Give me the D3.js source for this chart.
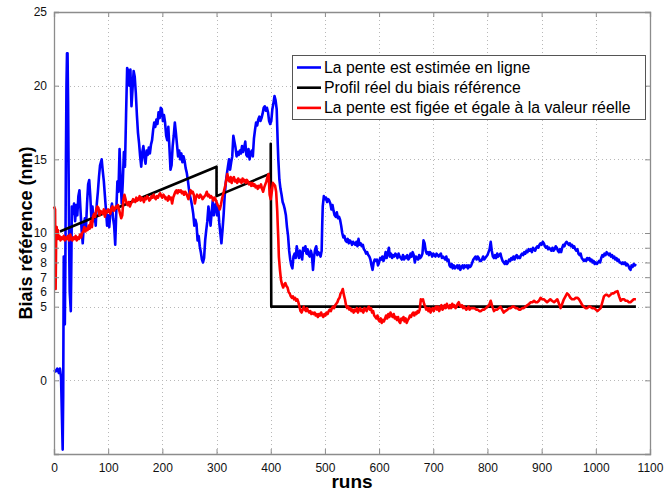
<!DOCTYPE html>
<html>
<head>
<meta charset="utf-8">
<script src="https://cdn.jsdelivr.net/npm/d3@7"></script>
<style>
  html, body { margin: 0; padding: 0; background: #fff; }
  svg { display: block; font-family: "Liberation Sans", Arial, Helvetica, sans-serif; }
</style>
</head>
<body>
<svg id="chart" width="666" height="494"></svg>
<script>
// Axis ticks
const xTicks = [0, 100, 200, 300, 400, 500, 600, 700, 800, 900, 1000, 1100];
const yTicks = [0, 5, 6, 7, 8, 9, 10, 15, 20, 25];

// Legend labels
const seriesNames = [
  "La pente est estimée en ligne",
  "Profil réel du biais référence",
  "La pente est figée et égale à la valeur réelle"
];

// Online slope estimate: [run, bias nm]
const blueSeries = [
  [0,0.7],[3,0.6],[6,0.8],[9,0.5],[11,0.8],[13,0.2],[16,-4.7],[17,-1],[18,8.4],[19,6],[20,3.8],[21,8],
  [22,15],[23,20],[24,22.2],[25,22.2],[26,19],[27,14],[28,9],[29,6],[31,4.7],[32,8],[33,11.8],[35,11.3],
  [37,12],[39,10.8],[41,11.9],[43,11.2],[45,12.5],[47,12.9],[49,11.5],[51,10.2],[53,9.3],[55,10.5],[57,11],
  [59,10.3],[61,12],[63,13.3],[65,13.6],[67,12.5],[69,11],[71,11.8],[73,10.8],[75,11.3],[77,10.5],[79,12],
  [81,12.8],[83,13.8],[85,14.6],[88,15],[90,14.2],[92,13.5],[94,12.5],[96,11.5],[98,10.5],[100,11.2],
  [102,10.4],[104,11.4],[107,12],[109,11],[111,10.5],[113,9.2],[115,11.5],[117,13.5],[119,12.8],[121,15.7],
  [123,13.5],[125,12],[127,13.5],[129,15.5],[131,14.5],[133,18],[135,21.2],[137,21],[139,20],[141,21.1],
  [143,18.6],[145,19.8],[147,21],[149,20.6],[151,19.5],[153,18],[155,16.8],[157,16.1],[159,15.2],[161,14.5],
  [163,15.5],[165,15.9],[167,15.1],[169,14.7],[171,15.6],[173,15.3],[175,15.8],[177,15.4],[179,16],[181,16.3],
  [183,17],[185,17.5],[187,17.2],[189,17.7],[191,17.4],[193,18.2],[195,17.8],[197,18.5],[199,18.4],[201,17.6],
  [203,18],[205,17.5],[207,16.6],[209,16.3],[211,17.2],[213,15.8],[215,14.3],[217,14.6],[219,15.9],[221,16.6],
  [223,17.5],[225,16.8],[227,16],[229,15.2],[231,15.6],[233,15],[235,15.4],[237,14.8],[239,15.2],[241,14.9],
  [243,14.4],[245,14.1],[247,13.6],[249,13],[251,12.5],[253,12.2],[255,11.8],[257,11.3],[259,10.5],[261,10.9],
  [263,10.6],[265,9.5],[267,9.8],[269,9.1],[271,8.7],[273,8.2],[275,8],[277,8.3],[279,9.5],[281,10.2],
  [283,10.8],[285,11.8],[287,11.2],[289,10.5],[291,11.4],[293,12.2],[295,11.2],[297,11.8],[299,12],[301,11.2],
  [303,11.8],[305,10.7],[307,10],[309,9.3],[311,10.2],[313,11.2],[315,12.5],[317,13.4],[319,14],[321,14.5],
  [323,15],[325,14.3],[327,14.8],[329,15.2],[331,16.6],[333,16.2],[335,15.8],[337,15.2],[339,15.5],[341,15.3],
  [343,15.6],[345,15.4],[347,15.9],[349,15.5],[351,15.8],[353,16.2],[355,15.3],[357,15.2],[359,15.7],[361,15],
  [363,15.4],[365,15.6],[367,15.2],[369,16.4],[371,17],[373,17.5],[375,17.3],[377,17.7],[379,17.9],[381,17.6],
  [383,17.8],[385,18.1],[387,18.5],[389,18.6],[391,18.3],[393,18.5],[395,18.2],[397,17.6],[399,17.4],[401,17.6],
  [403,18.4],[405,18.8],[407,19.3],[409,19],[411,18.4],[412,17.2],[413,16],[414,15],[416,13.6],[418,13],
  [420,12.6],[422,12.1],[424,11.9],[426,11.6],[428,11.2],[430,10.4],[432,9.8],[434,8.8],[436,8.2],[438,7.8],
  [440,7.6],[442,8.4],[444,8.6],[446,8.3],[448,9.1],[450,8.6],[452,8.3],[454,8.8],[456,8.5],[458,8.2],
  [460,9],[462,8.8],[464,9.1],[466,8.6],[468,8.9],[470,8.5],[472,8.4],[474,8.8],[476,8.5],[478,7.5],
  [480,8.4],[482,8.9],[484,9.1],[486,8.5],[488,8.7],[490,8.6],[492,8.4],[494,8.8],[495,10.5],[496,11.8],
  [498,12.5],[500,12.3],[502,12.4],[504,12.1],[506,12.3],[508,12.2],[510,12],[512,11.6],[514,11.9],[516,11.5],
  [518,11.2],[520,11.1],[522,11.4],[524,11],[526,11.1],[528,10.9],[530,10.5],[532,10],[534,9.7],[536,9.8],
  [538,9.5],[540,9.4],[542,9.6],[544,9.3],[546,9.5],[548,9.4],[550,9.2],[552,9.4],[554,9.3],[556,9.2],
  [558,9.4],[560,9.1],[562,9.6],[564,9.2],[566,9.3],[568,9.1],[570,9.2],[572,8.9],[574,8.8],[576,8.6],
  [578,8.7],[580,8.5],[582,8.4],[584,8.2],[586,7.8],[588,7.5],[590,8],[592,8.2],[594,8.1],[596,8.2],
  [598,7.8],[600,8],[602,8.3],[604,8.2],[606,8.4],[608,8.1],[610,8.3],[612,8.7],[614,8.3],[616,8.6],
  [618,9],[620,8.4],[622,8.6],[624,8.3],[626,8.5],[628,8.4],[630,8.6],[632,8.5],[634,8.3],[636,8.6],
  [638,8.4],[640,8.3],[642,8.2],[644,8.5],[646,8.2],[648,8.4],[650,8.3],[652,8.5],[654,8.2],[656,8.3],
  [658,8.6],[660,8.4],[662,8.7],[664,8.5],[666,8],[668,8.4],[670,8.3],[672,8.2],[674,8.5],[676,8.3],
  [678,8.4],[680,8.6],[682,9.5],[684,9.3],[686,8.8],[688,8.6],[690,8.7],[692,8.5],[694,8.7],[696,8.6],
  [698,8.4],[700,8.6],[702,8.5],[704,8.4],[706,8.6],[708,8.5],[710,8.4],[712,8.5],[714,8.6],[716,8.3],
  [718,8.4],[720,8.3],[722,8.2],[724,8.4],[726,8.1],[728,8.2],[730,7.8],[732,7.7],[734,7.9],[736,7.6],
  [738,7.8],[740,7.6],[742,7.7],[744,7.8],[746,7.6],[748,7.8],[750,7.5],[752,7.7],[754,7.8],[756,7.6],
  [758,7.8],[760,7.7],[762,7.8],[764,7.6],[766,7.8],[768,7.7],[770,7.8],[772,8],[774,8.2],[776,8.3],
  [778,8.4],[780,8.2],[782,8.4],[784,8.3],[786,8.1],[788,8.1],[790,8.2],[792,8.4],[794,8.2],[796,8.3],
  [798,8.4],[800,8.5],[802,8.7],[804,8.9],[806,9.4],[808,8.8],[810,8.4],[812,8.3],[814,8.5],[816,8.3],
  [818,8.6],[820,8.4],[822,8.5],[824,8.6],[826,8.3],[828,8.1],[830,8],[832,7.9],[834,8.1],[836,7.9],
  [838,8],[840,8.2],[842,8.1],[844,8.3],[846,8.2],[848,8.4],[850,8.2],[852,8.4],[854,8.5],[856,8.3],
  [858,8.4],[860,8.3],[862,8.5],[864,8.6],[866,8.5],[868,8.7],[870,8.6],[872,8.8],[874,8.7],[876,8.9],
  [878,8.8],[880,8.9],[882,8.7],[884,9],[886,8.9],[888,8.8],[890,9],[892,9.1],[894,9],[896,9.2],
  [898,9.3],[900,9.2],[902,9.4],[904,9.3],[906,9.1],[908,9],[910,9.1],[912,8.9],[914,9],[916,8.9],
  [918,8.8],[920,9],[922,8.8],[924,8.9],[926,9.1],[928,9],[930,8.8],[932,8.7],[934,8.9],[936,8.7],
  [938,9],[940,9.2],[942,9.1],[944,9.3],[946,9.4],[948,9.3],[950,9.2],[952,9.3],[954,9.1],[956,9.2],
  [958,9],[960,9.1],[962,8.9],[964,8.8],[966,8.9],[968,8.6],[970,8.5],[972,8.6],[974,8.3],[976,8.2],
  [978,8.1],[980,8.2],[982,8.1],[984,8.3],[986,8.2],[988,8.3],[990,8.1],[992,8.2],[994,8],[996,8.1],
  [998,7.9],[1000,8],[1002,7.9],[1004,8],[1006,8.1],[1008,8],[1010,8.3],[1012,8.5],[1014,8.4],[1016,8.6],
  [1018,8.5],[1020,8.7],[1022,8.6],[1024,8.5],[1026,8.6],[1028,8.4],[1030,8.5],[1032,8.3],[1034,8.4],[1036,8.2],
  [1038,8.3],[1040,8.1],[1042,8.2],[1044,8],[1046,8],[1048,7.9],[1050,8],[1052,7.9],[1054,8],[1056,7.8],
  [1058,7.9],[1060,7.8],[1062,7.6],[1064,7.5],[1066,7.8],[1068,7.7],[1070,7.9],[1072,7.8],[1074,7.9]
];

// True reference bias profile: [run, bias nm]
const blackSeries = [[11,10.1],[300,14.5],[300,12.5],[400,14.05],[400,16.05],[401,5],[1074,5]];

// Slope fixed at its true value: [run, bias nm]
const redSeries = [
  [0,11.8],[2,11.6],[3,6.2],[4,9.6],[5,10.4],[6,9.6],[7,10.2],[8,9.6],[10,9.8],[12,9.5],[14,9.7],[16,9.6],
  [18,9.8],[20,9.5],[22,9.7],[24,9.6],[26,9.8],[28,9.5],[30,9.9],[32,9.6],[34,9.5],[36,9.7],[38,9.6],[40,9.8],
  [42,9.5],[44,9.7],[46,9.6],[48,9.9],[50,9.7],[52,10],[54,10.1],[56,10.4],[58,10.1],[60,10.3],[62,10.2],
  [64,10.5],[66,10.3],[68,10.8],[70,10.4],[72,11.1],[74,11.3],[76,11.1],[78,11.6],[80,11.8],[82,11.7],
  [84,11.2],[86,11.5],[88,11.4],[90,11.3],[92,11.6],[94,11.1],[96,11.5],[98,11.4],[100,11.6],[102,11.5],
  [104,11.3],[106,11.7],[108,11.8],[110,11.5],[112,11.6],[114,11.8],[116,11.7],[118,11.9],[120,11.6],
  [122,11.3],[124,11],[126,11.2],[128,12.2],[130,12.6],[132,12.3],[134,12],[136,11.9],[138,12.1],[140,11.8],
  [142,12],[144,12.1],[146,12.3],[148,12.2],[150,12.1],[152,12.4],[154,12.2],[156,12.3],[158,12.5],[160,12.2],
  [162,12.4],[164,12.3],[166,12.1],[168,12.4],[170,12.3],[172,12.5],[174,12.4],[176,12.2],[178,12.3],
  [180,12.5],[182,12.4],[184,12.6],[186,12.4],[188,12.3],[190,12.5],[192,12.4],[194,12.6],[196,12.7],
  [198,12.5],[200,12.4],[202,12.6],[204,12.5],[206,12.3],[208,12.4],[210,12.2],[212,12.5],[214,12.3],
  [216,12.4],[218,12],[220,12.4],[222,12.6],[224,12.8],[226,12.9],[228,12.7],[230,12.9],[232,12.8],
  [234,12.9],[236,12.7],[238,12.8],[240,12.6],[242,12.8],[244,12.7],[246,12.5],[248,12.3],[250,12.6],
  [252,12.9],[254,12.7],[256,12.8],[258,12.6],[260,12],[262,12.4],[264,12.6],[266,12.5],[268,12.4],
  [270,12.6],[272,12.5],[274,12.3],[276,12.4],[278,12.5],[280,12.6],[282,12.8],[284,12.5],[286,12.6],
  [288,12.4],[290,12.5],[292,12.4],[294,12.2],[296,12.4],[298,12.3],[300,12.1],[302,11.9],[304,11.8],
  [306,11.6],[308,11.9],[310,12.3],[312,12.6],[314,12.9],[316,13.2],[318,13.6],[320,14],[322,13.6],
  [324,13.5],[326,13.8],[328,13.4],[330,13.7],[332,13.8],[334,13.5],[336,13.6],[338,13.4],[340,13.7],
  [342,13.5],[344,13.6],[346,13.4],[348,13.7],[350,13.5],[352,13.6],[354,13.4],[356,13.6],[358,13.5],
  [360,13.3],[362,13.4],[364,13.2],[366,13.4],[368,13.2],[370,13.3],[372,13.1],[374,13.2],[376,13],
  [378,13.2],[380,13.1],[382,13.3],[384,13],[386,12.8],[388,13.1],[390,13.3],[392,13.5],[394,13.8],
  [396,14],[398,12.6],[400,12.3],[402,12.8],[404,13.4],[406,13.3],[408,13.2],[410,12.8],[412,11.5],
  [413,10.5],[414,9.6],[415,8.4],[417,7.5],[419,6.8],[421,6.5],[423,6.3],[425,6.5],[427,6.6],[429,6.4],
  [431,6.3],[433,6],[435,5.9],[437,5.7],[439,5.6],[441,5.7],[443,5.5],[445,5.6],[447,5.4],[449,5.5],
  [451,5.3],[453,5],[455,4.7],[457,4.6],[459,4.8],[461,5],[463,4.8],[465,4.7],[467,4.9],[469,4.7],
  [471,4.6],[473,4.7],[475,4.5],[477,4.6],[479,4.5],[481,4.6],[483,4.4],[485,4.5],[487,4.3],[489,4.5],
  [491,4.4],[493,4.6],[495,4.4],[497,4.3],[499,4.5],[501,4.4],[503,4.6],[505,4.5],[507,4.7],[509,4.8],
  [511,4.7],[513,4.9],[515,5],[517,4.9],[519,5.1],[521,5.2],[523,5.3],[525,5.5],[527,5.6],[529,5.9],
  [531,6],[533,6.2],[535,5.8],[537,5.5],[539,5.1],[541,4.9],[543,5],[545,4.8],[547,4.9],[549,4.7],
  [551,4.8],[553,4.6],[555,4.8],[557,4.7],[559,4.9],[561,4.6],[563,4.8],[565,4.9],[567,4.7],[569,4.8],
  [571,4.6],[573,4.9],[575,4.8],[577,4.7],[579,4.9],[581,5],[583,4.8],[585,4.9],[587,4.6],[589,4.7],
  [591,4.4],[593,4.3],[595,4.2],[597,4.4],[599,4.1],[601,4],[603,4.2],[605,3.9],[607,4.1],[609,4],
  [611,4.2],[613,4.4],[615,4.2],[617,4.5],[619,4.3],[621,4.6],[623,4.4],[625,4.3],[627,4.5],[629,4.2],
  [631,4.3],[633,4.1],[635,4.3],[637,4],[639,3.9],[641,4.2],[643,4.1],[645,4.3],[647,4],[649,4.2],
  [651,3.9],[653,4.1],[655,4.2],[657,4.4],[659,4.3],[661,4.5],[663,4.6],[665,4.4],[667,4.6],[669,4.5],
  [671,4.7],[673,4.6],[675,4.8],[677,5.5],[679,5.4],[681,5.5],[683,5.2],[685,5],[687,4.8],[689,4.9],
  [691,4.7],[693,4.9],[695,4.6],[697,4.8],[699,4.9],[701,4.7],[703,4.9],[705,5],[707,4.8],[709,5],
  [711,4.7],[713,4.9],[715,5.1],[717,4.8],[719,4.9],[721,5.1],[723,4.9],[725,5.2],[727,5],[729,4.9],
  [731,5.1],[733,4.9],[735,5.2],[737,5],[739,5.1],[741,4.9],[743,5],[745,5.2],[747,5.3],[749,5.1],
  [751,5],[753,5.1],[755,4.9],[757,5],[759,4.9],[761,4.8],[763,4.9],[765,5],[767,4.8],[769,4.9],
  [772,4.9],[776,4.9],[779,4.8],[782,4.8],[785,4.7],[788,4.7],[791,4.8],[794,4.8],[797,4.9],[800,5],
  [803,5.1],[806,5.4],[809,5],[812,4.7],[815,4.8],[818,4.8],[821,4.9],[824,5],[827,4.8],[830,4.6],
  [833,4.7],[837,4.8],[840,4.9],[843,4.9],[846,5],[849,5],[852,4.9],[855,4.9],[858,4.8],[861,4.8],
  [864,4.9],[867,4.9],[870,5],[874,5.1],[877,5.2],[880,5.3],[883,5.3],[886,5.4],[889,5.3],[892,5.3],
  [895,5.4],[898,5.6],[901,5.5],[904,5.5],[907,5.4],[910,5.3],[913,5.4],[916,5.5],[919,5.4],[923,5.3],
  [926,5.4],[929,5.5],[932,5.2],[935,4.9],[938,5.2],[941,5.5],[944,5.7],[947,5.9],[950,5.8],[953,5.6],
  [956,5.5],[960,5.5],[963,5.6],[966,5.6],[969,5.5],[972,5.3],[975,5.1],[978,5],[981,4.9],[984,4.9],
  [987,5],[990,5],[993,4.9],[997,4.9],[1000,4.8],[1003,4.7],[1006,4.8],[1009,4.9],[1012,5.3],[1015,5.7],
  [1018,5.8],[1021,5.8],[1024,5.7],[1027,5.8],[1030,5.9],[1033,5.9],[1036,6],[1040,6.05],[1043,5.7],
  [1046,5.4],[1049,5.5],[1052,5.5],[1055,5.4],[1058,5.4],[1061,5.3],[1064,5.3],[1067,5.4],[1070,5.5],[1074,5.5]
];

const colors = ["#0000ff", "#000000", "#ff0000"];

const svg = d3.select("#chart");
const margin = { left: 54, right: 16, top: 12, bottom: 40 };
const W = 666, H = 494;
const x = d3.scaleLinear().domain([0, 1100]).range([margin.left, W - margin.right]);
const y = d3.scaleLinear().domain([-5, 25]).range([H - margin.bottom, margin.top]);

const x0 = x.range()[0], x1 = x.range()[1];
const y0 = y.range()[0], y1 = y.range()[1];

// Dotted grid
const grid = svg.append("g").attr("stroke", "#b8b8b8").attr("stroke-width", 1)
  .attr("stroke-dasharray", "1,3").attr("shape-rendering", "crispEdges");
grid.selectAll(".gx").data(xTicks.filter(d => d > 0 && d < 1100)).join("line")
  .attr("x1", d => Math.round(x(d)) + 0.5).attr("x2", d => Math.round(x(d)) + 0.5)
  .attr("y1", y1).attr("y2", y0);
grid.selectAll(".gy").data(yTicks.filter(d => d > -5 && d < 25)).join("line")
  .attr("y1", d => Math.round(y(d)) + 0.5).attr("y2", d => Math.round(y(d)) + 0.5)
  .attr("x1", x0).attr("x2", x1);

// Data lines
const line = d3.line().x(d => x(d[0])).y(d => y(d[1]));
const plot = svg.append("g");
[blueSeries, blackSeries, redSeries].forEach((s, i) => {
  plot.append("path").datum(s).attr("d", line)
    .attr("fill", "none").attr("stroke", colors[i])
    .attr("stroke-width", 2.6)
    .attr("stroke-linejoin", "round");
});

// Axes (ticks pointing inward, box on all sides)
const tickLen = 5;
const axisColor = "#8c8c8c";
const xAxis = d3.axisBottom(x).tickValues(xTicks).tickSize(-tickLen).tickPadding(9).tickFormat(d3.format("d"));
const yAxis = d3.axisLeft(y).tickValues(yTicks).tickSize(-tickLen).tickPadding(7).tickFormat(d3.format("d"));
const gx = svg.append("g").attr("transform", `translate(0,${y0})`).call(xAxis);
const gy = svg.append("g").attr("transform", `translate(${x0},0)`).call(yAxis);
const gxt = svg.append("g").attr("transform", `translate(0,${y1})`).call(d3.axisTop(x).tickValues(xTicks).tickSize(-tickLen).tickFormat(""));
const gyr = svg.append("g").attr("transform", `translate(${x1},0)`).call(d3.axisRight(y).tickValues(yTicks).tickSize(-tickLen).tickFormat(""));
[gx, gy, gxt, gyr].forEach(g => {
  g.select(".domain").attr("stroke", axisColor).attr("stroke-width", 1.3);
  g.selectAll(".tick line").attr("stroke", axisColor);
  g.selectAll(".tick text").attr("fill", "#111").style("font-size", "12px")
    .style("font-family", "'Liberation Sans', Arial, sans-serif");
});

// Axis titles
svg.append("text").attr("x", (x0 + x1) / 2).attr("y", 488)
  .attr("text-anchor", "middle").style("font-size", "19px").style("font-weight", "bold")
  .text("runs");
svg.append("text").attr("transform", `translate(32,${(y0 + y1) / 2}) rotate(-90)`)
  .attr("text-anchor", "middle").style("font-size", "18px").style("font-weight", "bold")
  .text("Biais référence (nm)");

// Legend
const lg = svg.append("g");
const lgX = 292, lgY = 55, lgW = 353, lgH = 64;
lg.append("rect").attr("x", lgX + 0.5).attr("y", lgY + 0.5).attr("width", lgW).attr("height", lgH)
  .attr("fill", "#fff").attr("stroke", "#555").attr("stroke-width", 1);
seriesNames.forEach((name, i) => {
  const cy = lgY + 12.5 + i * 20.2;
  lg.append("line").attr("x1", lgX + 5).attr("x2", lgX + 29).attr("y1", cy).attr("y2", cy)
    .attr("stroke", colors[i]).attr("stroke-width", 2.6);
  lg.append("text").attr("x", lgX + 32).attr("y", cy + 5.5).style("font-size", "15.8px")
    .attr("fill", "#000").text(name);
});
</script>
</body>
</html>
